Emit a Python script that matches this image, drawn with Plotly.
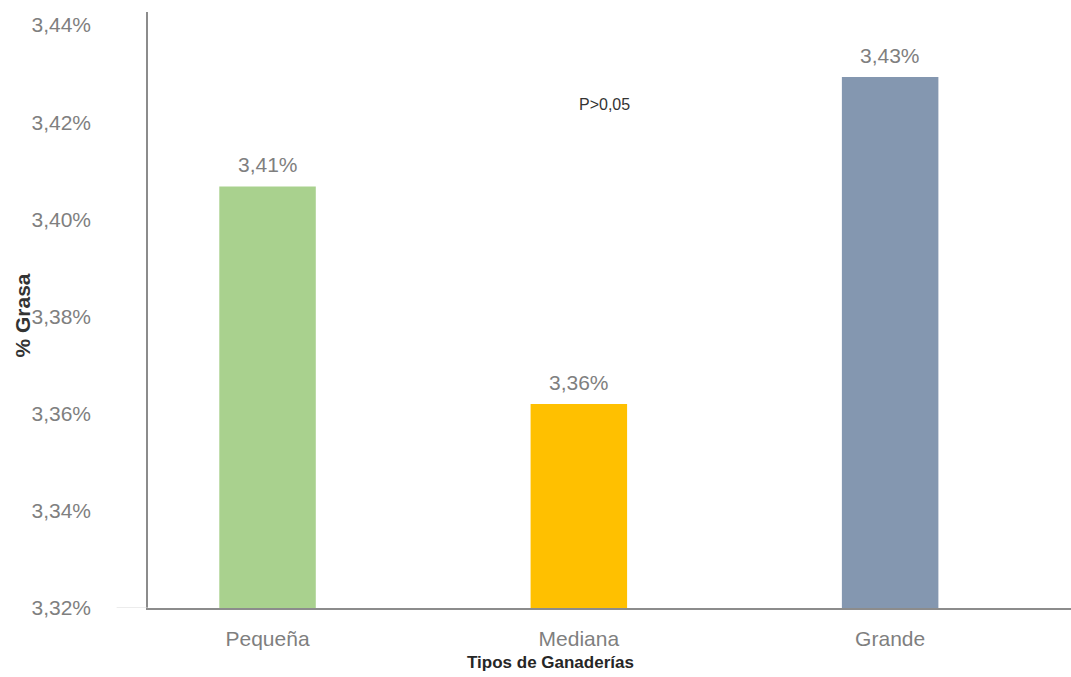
import plotly.graph_objects as go

# Milk fat content by herd size
categories = ["Pequeña", "Mediana", "Grande"]
grasa = [3.4068, 3.3620, 3.4293]
bar_colors = ["#A9D18E", "#FFC000", "#8497B0"]
y_ticks = [3.32, 3.34, 3.36, 3.38, 3.40, 3.42, 3.44]
y_min, y_max = 3.32, 3.4427

labels = [f"{v:.2f}".replace(".", ",") + "%" for v in grasa]
tick_text = [f"{v:.2f}".replace(".", ",") + "%" for v in y_ticks]

FONT = "Liberation Sans, Arial, sans-serif"
GRAY = "#7f7f7f"
SIZE = 21

fig = go.Figure(
    go.Bar(
        x=categories,
        y=grasa,
        marker=dict(color=bar_colors, line=dict(width=0)),
        width=0.31,
        hoverinfo="skip",
    )
)

# value labels above each bar
value_labels = [
    dict(x=c, y=v, xref="x", yref="y", text=t, showarrow=False,
         yanchor="bottom", yshift=8,
         font=dict(family=FONT, size=SIZE, color=GRAY))
    for c, v, t in zip(categories, grasa, labels)
]

fig.update_layout(
    width=1071,
    height=677,
    margin=dict(l=148, r=0, t=12, b=69),
    paper_bgcolor="white",
    plot_bgcolor="white",
    showlegend=False,
    separators=",.",
    font=dict(family=FONT, color=GRAY),
    xaxis=dict(
        range=[-0.384, 2.581],
        showgrid=False,
        showline=True,
        linecolor="#8c8c8c",
        linewidth=1.5,
        ticks="outside",
        ticklen=11,
        tickcolor="rgba(0,0,0,0)",
        tickfont=dict(family=FONT, size=SIZE, color=GRAY),
        zeroline=False,
    ),
    yaxis=dict(
        range=[y_min, y_max],
        tickvals=y_ticks,
        ticktext=tick_text,
        showgrid=False,
        showline=True,
        linecolor="#8c8c8c",
        linewidth=1.5,
        ticks="",
        ticklabelstandoff=51,
        tickfont=dict(family=FONT, size=SIZE, color=GRAY),
        zeroline=False,
    ),
    shapes=[
        dict(type="line", xref="paper", yref="y", x0=-0.034, x1=0,
             y0=y_min, y1=y_min, line=dict(color="#d9d9d9", width=1)),
    ],
    annotations=value_labels + [
        dict(text="<b>% Grasa</b>", xref="paper", yref="paper",
             x=-0.1505, y=0.49, textangle=-90, showarrow=False,
             font=dict(family=FONT, size=21, color="#333333")),
        dict(text="<b>Tipos de Ganaderías</b>", xref="paper", yref="paper",
             x=0.4366, y=-0.092, yanchor="middle", showarrow=False,
             font=dict(family=FONT, size=17, color="#262626")),
        dict(text="P>0,05", xref="paper", yref="paper",
             x=0.495, y=0.844, yanchor="middle", showarrow=False,
             font=dict(family=FONT, size=16, color="#333333")),
    ],
)

fig.write_html("out.html")
